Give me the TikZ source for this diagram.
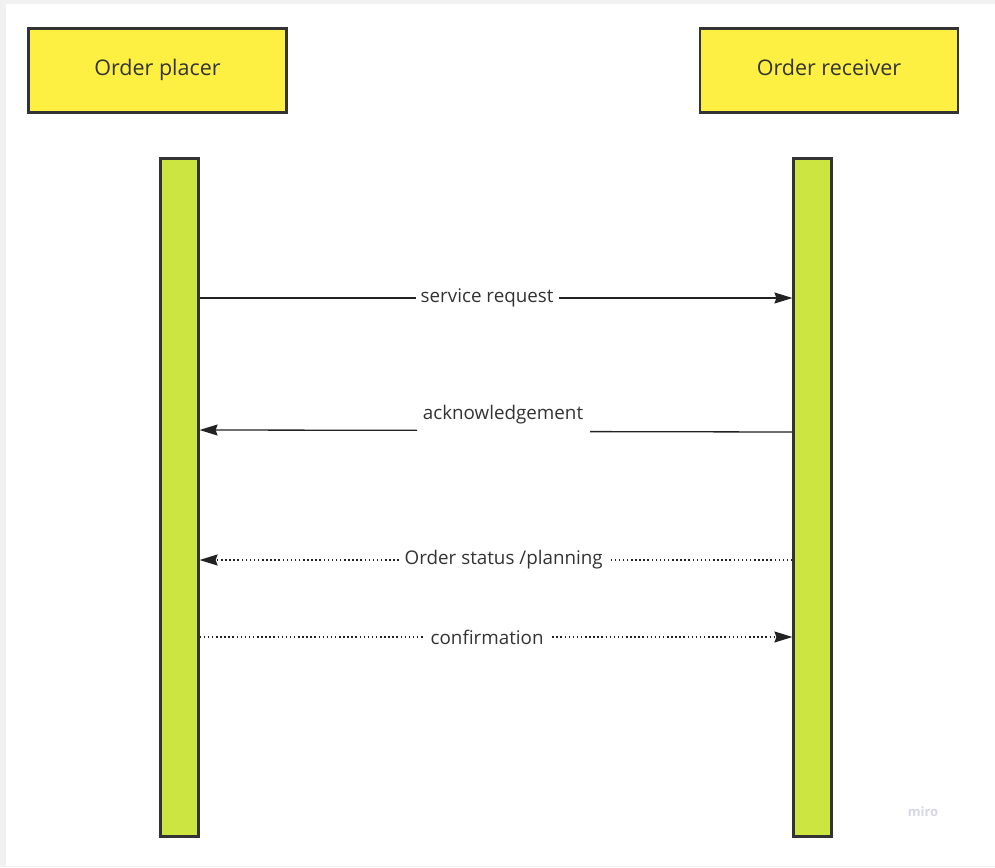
\documentclass[tikz,border=0pt]{standalone}
\usepackage{fontspec}
\setmainfont{Open Sans}
\usetikzlibrary{arrows.meta,calc}
\definecolor{bggray}{HTML}{F1F1F1}
\definecolor{boxyellow}{HTML}{FDF042}
\definecolor{lifegreen}{HTML}{CDE540}
\definecolor{edge}{HTML}{333333}
\definecolor{ink}{HTML}{222222}
\definecolor{txt}{HTML}{333333}
\definecolor{miro}{HTML}{D6D6E6}
\tikzset{
  actor/.style={draw=edge,line width=2.2pt,fill=boxyellow,minimum width=258pt,minimum height=84pt,inner sep=0pt,font=\fontsize{21.5}{25}\selectfont,text=txt,text height=1.8ex,text depth=0ex},
  life/.style={draw=edge,line width=2.2pt,fill=lifegreen,minimum width=38pt,minimum height=678pt,inner sep=0pt},
  msg/.style={draw=ink,line width=1.3pt},
  dotmsg/.style={msg,line width=1.5pt,dash pattern=on 1.5pt off 2.6pt},
  tip/.style={-{Stealth[length=18pt,width=11pt,inset=2pt]}},
  lbl/.style={font=\fontsize{18.8}{22}\selectfont,text=txt,inner sep=0pt}
}
\begin{document}
\begin{tikzpicture}[x=1pt,y=-1pt]
\useasboundingbox (0,0) rectangle (995,867);
\fill[bggray] (0,0) rectangle (995,867);
\fill[white] (6,4) rectangle (995,866);
% actors
\node[actor] (placer) at (157.5,70.5) {Order placer};
\node[actor] (receiver) at (829,70.5) {Order receiver};
% lifelines
\node[life] (lifeL) at (179.5,497.5) {};
\node[life] (lifeR) at (812.5,497.5) {};
% message rows
\coordinate (y1) at (0,298);
\coordinate (y2l) at (0,430);
\coordinate (y2r) at (0,432);
\coordinate (y3) at (0,560);
\coordinate (y4) at (0,637);
% service request
\draw[msg,tip] (lifeL.east |- y1) -- node[lbl,pos=0.485,fill=white,inner xsep=5pt,inner ysep=3pt]{service request} (lifeR.west |- y1);
% acknowledgement
\node[lbl] (ack) at (503,415) {acknowledgement};
\coordinate (ackA) at (590,431.6);
\coordinate (ackB) at (417,430.3);
\draw[msg] (lifeR.west |- y2r) -- (ackA);
\draw[msg,tip] (ackB) -- (lifeL.east |- y2l);
% order status
\draw[dotmsg,tip] (lifeR.west |- y3) -- node[lbl,pos=0.487,fill=white,inner xsep=5pt,inner ysep=3pt]{Order status /planning} (lifeL.east |- y3);
% confirmation
\draw[dotmsg,tip] (lifeL.east |- y4) -- node[lbl,pos=0.485,fill=white,inner xsep=6pt,inner ysep=3pt]{confirmation} (lifeR.west |- y4);
% watermark
\node[font=\fontsize{13}{15}\selectfont\bfseries,text=miro,inner sep=0pt] (wm) at (923,812) {miro};
\end{tikzpicture}
\end{document}
